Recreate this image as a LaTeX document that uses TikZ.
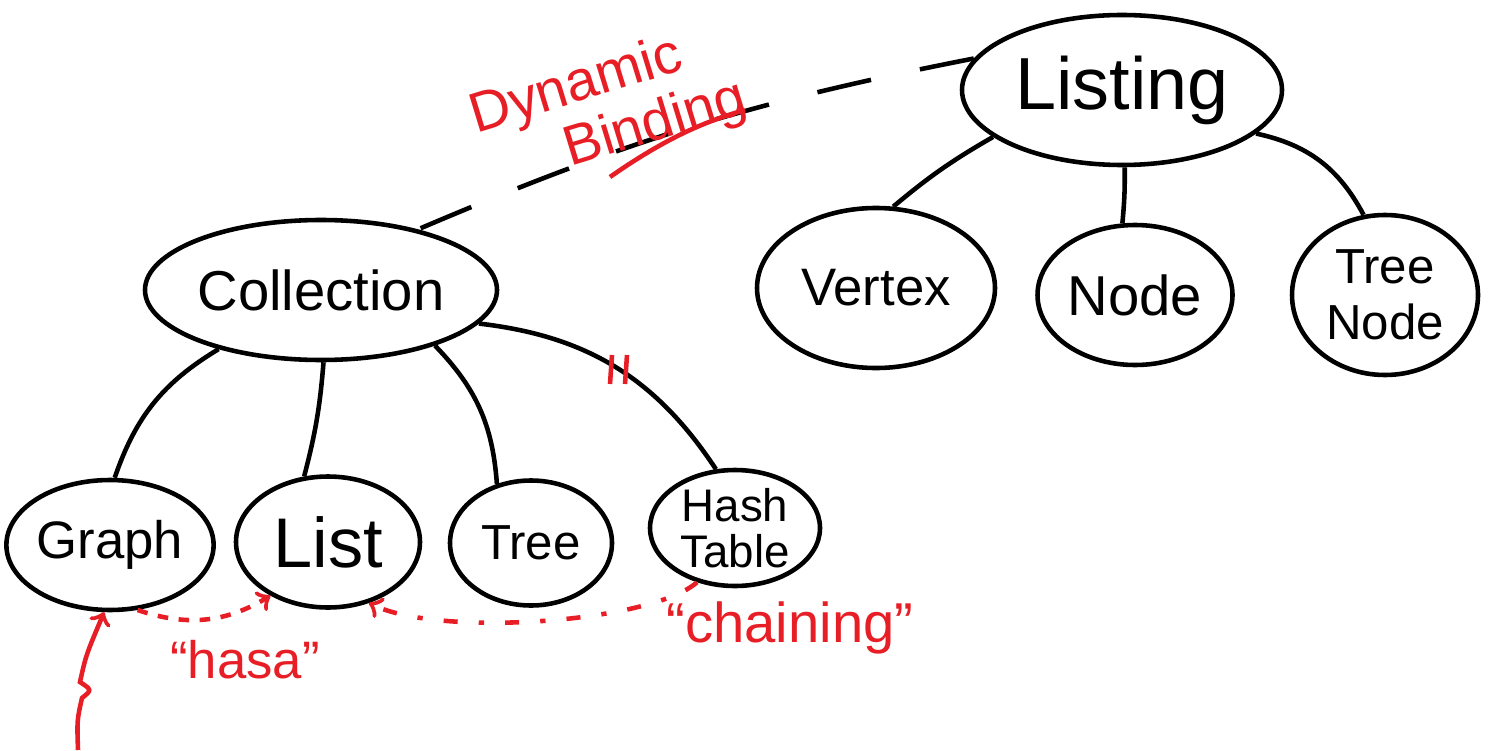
\documentclass[tikz,border=0pt]{standalone}
\usepackage{fontspec}
\setmainfont{Liberation Sans}
\usetikzlibrary{shapes.geometric}
\definecolor{marker}{RGB}{232,30,38}
\newcommand{\fs}[1]{\fontsize{#1}{#1}\selectfont}

\begin{document}
\begin{tikzpicture}[
  blob/.style={ellipse,draw,line width=1.3pt,inner sep=0pt,align=center},
  link/.style={line width=1.3pt},
  redpen/.style={marker,line width=1.3pt}]
  \useasboundingbox (0,0) rectangle (14.96,7.5);
  % right tree
  \node[blob,minimum width=3.2cm,minimum height=1.5cm,font=\fs{21}] (listing) at (11.22,6.6) {Listing};
  \node[blob,minimum width=2.38cm,minimum height=1.6cm,font=\fs{15}] (vertex) at (8.76,4.62) {Vertex};
  \node[blob,minimum width=1.95cm,minimum height=1.4cm,font=\fs{16}] (node) at (11.35,4.55) {Node};
  \node[blob,minimum width=1.86cm,minimum height=1.6cm,font=\fs{14}] (treenode) at (13.85,4.55) {Tree\\[2pt]Node};
  \draw[link] (listing.200) to[bend right=5] (vertex.78);
  \draw[link] (listing.-88) to[bend left=3] (node.100);
  \draw[link] (listing.-18) to[bend left=25] (treenode.105);
  % left tree
  \node[blob,minimum width=3.52cm,minimum height=1.4cm,font=\fs{16}] (collection) at (3.21,4.6) {Collection};
  \node[blob,minimum width=1.96cm,minimum height=1.3cm,font=\fs{15}] (graph) at (1.1,2.05) {Graph};
  \node[blob,minimum width=1.84cm,minimum height=1.31cm,font=\fs{20}] (list) at (3.28,2.08) {List};
  \node[blob,minimum width=1.62cm,minimum height=1.25cm,font=\fs{14}] (tree) at (5.31,2.07) {Tree};
  \node[blob,minimum width=1.7cm,minimum height=1.16cm,font=\fs{13}] (hash) at (7.35,2.22) {Hash\\Table};
  \draw[link] (collection.210) to[bend right=20] (graph.86);
  \draw[link] (collection.-88) to[bend left=5] (list.110);
  \draw[link] (collection.-26) to[bend left=20] (tree.120);
  \draw[link] (collection.-12) to[bend left=25] (hash.108);
  \foreach \x in {6.12,6.27} {\draw[redpen] (\x,3.95) -- (\x-0.02,3.66);}
  % dynamic binding
  \draw[link,dash pattern=on 0.55cm off 0.5cm] (listing.168) to[bend right=6] (collection.32);
  \node[marker,rotate=17,anchor=west,align=left,inner sep=0pt,font=\fs{16}] (dynbind) at (4.8,6.02)
    {Dynamic\\[1pt]\hspace*{0.8cm}Binding};
  \draw[redpen] (6.1,5.73) .. controls (6.7,6.15) and (7.1,6.3) .. (7.45,6.4);
  % red arrows
  \draw[redpen,dashed,->] (graph.-67) to[bend right=25] (list.223);
  \node[marker,font=\fs{15}] (hasa) at (2.45,0.9) {“hasa”};
  \draw[redpen,dash pattern=on 4pt off 6pt on 1.5pt off 6pt,->] (hash.235)
    .. controls +(-0.45,-0.4) and +(0.7,-0.35) .. (list.-56);
  \node[marker,font=\fs{16}] (chain) at (7.9,1.22) {“chaining”};
  \coordinate (tail) at (0.78,0);
  \draw[redpen,->] (tail) .. controls (0.77,0.3) .. (0.82,0.52)
    .. controls (0.92,0.6) .. (0.8,0.68) .. controls (0.86,0.95) .. (graph.265);
\end{tikzpicture}
\end{document}
